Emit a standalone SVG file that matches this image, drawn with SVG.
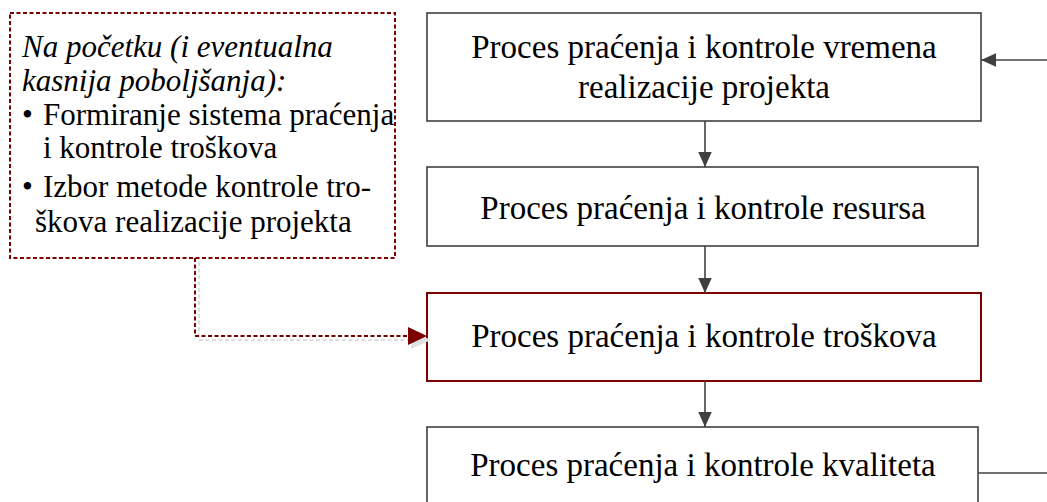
<svg xmlns="http://www.w3.org/2000/svg" width="1047" height="502" viewBox="0 0 1047 502">
  <style>
    text { font-family: 'Liberation Serif', 'Times New Roman', Times, serif; fill: #000000; }
    .box { fill: #ffffff; stroke: #404040; stroke-width: 1.6; }
    .box-red { fill: #ffffff; stroke: #7f0000; stroke-width: 2; }
    .label { font-size: 33px; text-anchor: middle; }
    .note { font-size: 31px; }
    .note-frame { fill: #ffffff; stroke: #7b0000; stroke-width: 2; stroke-dasharray: 4 2.5; }
    .flow { fill: none; stroke: #404040; stroke-width: 1.6; }
    .dotted { fill: none; stroke: #7b0000; stroke-width: 2; stroke-dasharray: 4 2.5; }
    .shadow { fill: none; stroke: #dedede; stroke-width: 2; stroke-dasharray: 4 2.5; }
  </style>
  <defs>
    <marker id="arrow-gray" viewBox="0 0 10 10" refX="10" refY="5" markerWidth="15" markerHeight="15" markerUnits="userSpaceOnUse" orient="auto">
      <path d="M0,0.5 L10,5 L0,9.5 Z" fill="#404040"/>
    </marker>
  </defs>

  <rect width="1047" height="502" fill="#ffffff"/>

  <!-- Note on the left -->
  <g id="note">
    <rect class="note-frame" x="10" y="13" width="385" height="245"/>
    <text class="note" font-style="italic" x="22" y="57">Na početku (i eventualna</text>
    <text class="note" font-style="italic" x="22" y="91">kasnija poboljšanja):</text>
    <text class="note" x="22" y="125">•<tspan x="43">Formiranje sistema praćenja</tspan></text>
    <text class="note" x="43" y="158">i kontrole troškova</text>
    <text class="note" x="22" y="197">•<tspan x="43">Izbor metode kontrole tro-</tspan></text>
    <text class="note" x="35" y="232">škova realizacije projekta</text>
  </g>

  <!-- Process boxes -->
  <g id="node-vreme">
    <rect class="box" x="427" y="13" width="554" height="108"/>
    <text class="label" x="704" y="58">Proces praćenja i kontrole vremena</text>
    <text class="label" x="704" y="98">realizacije projekta</text>
  </g>
  <g id="node-resursi">
    <rect class="box" x="427" y="167" width="551" height="79"/>
    <text class="label" x="703" y="219">Proces praćenja i kontrole resursa</text>
  </g>
  <g id="node-troskovi">
    <rect class="box-red" x="427" y="293" width="554" height="88"/>
    <text class="label" x="704" y="347">Proces praćenja i kontrole troškova</text>
  </g>
  <g id="node-kvalitet">
    <rect class="box" x="427" y="427" width="551" height="90"/>
    <text class="label" x="703" y="476">Proces praćenja i kontrole kvaliteta</text>
  </g>

  <!-- Connectors -->
  <g id="connectors">
    <line class="flow" x1="705" y1="121" x2="705" y2="167" marker-end="url(#arrow-gray)"/>
    <line class="flow" x1="705" y1="246" x2="705" y2="293" marker-end="url(#arrow-gray)"/>
    <line class="flow" x1="705" y1="381" x2="705" y2="427" marker-end="url(#arrow-gray)"/>
    <!-- feedback loop along the right edge -->
    <line class="flow" x1="978" y1="473" x2="1047" y2="473"/>
    <line class="flow" x1="1047" y1="60" x2="981" y2="60" marker-end="url(#arrow-gray)"/>
    <!-- dotted link from the note into the cost box, with its soft shadow -->
    <path class="shadow" d="M199,262 V340 H414"/>
    <path d="M411,331 L431,340 L411,349 Z" fill="#e2e2e2"/>
    <path class="dotted" d="M195,258 V336 H412"/>
    <path d="M408,327 L427,336 L408,345 Z" fill="#7b0000"/>
  </g>
</svg>
